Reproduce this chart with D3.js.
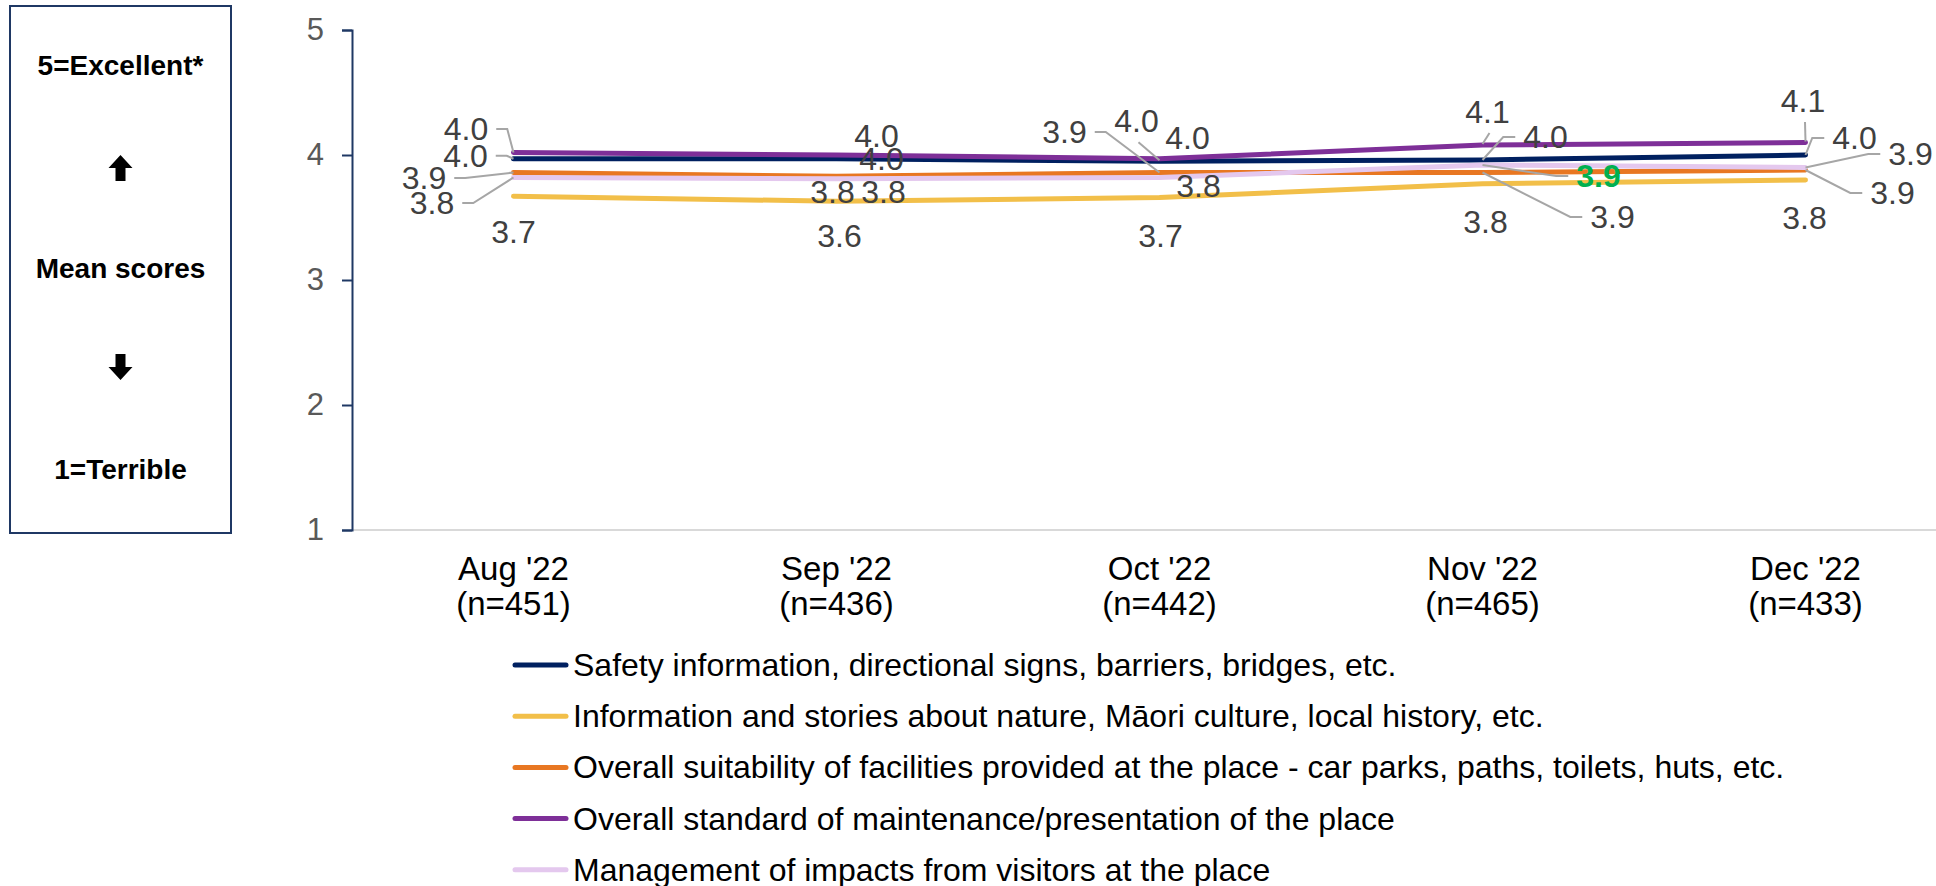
<!DOCTYPE html>
<html>
<head>
<meta charset="utf-8">
<script src="https://cdn.jsdelivr.net/npm/d3@7"></script>
<style>
body { margin: 0; background: #fff; }
text { font-family: "Liberation Sans", Arial, sans-serif; }
</style>
</head>
<body>
<script>
// data
var months = ["Aug '22", "Sep '22", "Oct '22", "Nov '22", "Dec '22"];
var sampleSizes = ["(n=451)", "(n=436)", "(n=442)", "(n=465)", "(n=433)"];
var seriesNames = [
	"Safety information, directional signs, barriers, bridges, etc.",
	"Information and stories about nature, M\u0101ori culture, local history, etc.",
	"Overall suitability of facilities provided at the place - car parks, paths, toilets, huts, etc.",
	"Overall standard of maintenance/presentation of the place",
	"Management of impacts from visitors at the place"
];
var safety = [3.97, 3.97, 3.95, 3.96, 4.00];
var information = [3.67, 3.63, 3.66, 3.77, 3.80];
var facilities = [3.86, 3.83, 3.86, 3.86, 3.88];
var maintenance = [4.02, 4.00, 3.97, 4.08, 4.10];
var impacts = [3.82, 3.81, 3.82, 3.92, 3.90];
var yTicks = [1, 2, 3, 4, 5];
// significant change marked green: [series, month]
var highlighted = [[4, 3]];

var seriesValues = [safety, information, facilities, maintenance, impacts];
var colors = ['#002060', '#F2BF49', '#E87722', '#7E2F98', '#E4C8EE'];

// label placement (offset from point, leader side)
var labelLayout = [
	[[-48, 8, 'R'], [45, 11, ''], [-23, -29, 'B'], [63, -12, 'L'], [49, -6, 'L']],
	[[0, 47, ''], [3, 46, ''], [1, 49.5, ''], [3, 49, ''], [-1, 49, '']],
	[[-89.5, 16.5, 'R'], [-4, 27, ''], [-95, -29.5, 'R'], [130, 55.5, 'L'], [87, 34, 'L']],
	[[-47.5, -12.5, 'R'], [40, -8, ''], [28, -10, ''], [5, -22, 'B'], [-2.5, -30.5, 'B']],
	[[-81.5, 36.5, 'R'], [47, 24, ''], [39, 19.5, ''], [116, 22, 'L'], [105, -2.5, 'L']]
];

var svg = d3.select('body')
	.append('svg')
	.attr('width', 1936)
	.attr('height', 886);

// LEFT BOX
svg.append('rect')
	.attr('x', 10).attr('y', 6)
	.attr('width', 221).attr('height', 527)
	.style('fill', 'none')
	.style('stroke', '#1F3864')
	.style('stroke-width', 2);

var boxText = [['5=Excellent*', 75], ['Mean scores', 278], ['1=Terrible', 479]];
svg.selectAll('.boxlabel')
	.data(boxText)
	.enter()
	.append('text')
	.classed('boxlabel', true)
	.attr('x', 120.5)
	.attr('y', function(d){ return d[1]; })
	.style('text-anchor', 'middle')
	.style('font-weight', 'bold')
	.style('font-size', '28px')
	.text(function(d){ return d[0]; });

var arrow = 'M0,-13 L12,0 L5,0 L5,13 L-5,13 L-5,0 L-12,0 Z';
svg.append('path').attr('d', arrow)
	.attr('transform', 'translate(120.5,168)')
	.style('fill', '#000');
svg.append('path').attr('d', arrow)
	.attr('transform', 'translate(120.5,367) rotate(180)')
	.style('fill', '#000');

// SCALES
var x = d3.scaleBand()
	.domain(months)
	.range([352, 1967]);
var y = d3.scaleLinear()
	.domain([1, 5])
	.range([530, 30]);
var cx = function(i){ return x(months[i]) + x.bandwidth() / 2; };

// x axis line
svg.append('line')
	.attr('x1', 352).attr('x2', 1936)
	.attr('y1', y(1)).attr('y2', y(1))
	.style('stroke', '#D9D9D9')
	.style('stroke-width', 2);

// y axis
var yAxis = svg.append('g')
	.attr('transform', 'translate(352,0)')
	.call(d3.axisLeft(y).tickValues(yTicks).tickSize(10).tickPadding(18).tickFormat(d3.format('d')));
yAxis.select('.domain').style('stroke', '#1F3864').style('stroke-width', 2);
yAxis.selectAll('.tick line').style('stroke', '#1F3864').style('stroke-width', 2);
yAxis.selectAll('.tick text')
	.style('font-size', '31px')
	.style('fill', '#595959')
	.style('font-family', '"Liberation Sans", Arial, sans-serif');

// x labels
var xl = svg.selectAll('.xlabel')
	.data(months)
	.enter()
	.append('text')
	.classed('xlabel', true)
	.attr('x', function(d, i){ return cx(i); })
	.attr('y', 580)
	.style('text-anchor', 'middle')
	.style('font-size', '33px')
	.style('fill', '#000');
xl.append('tspan')
	.attr('x', function(d, i){ return cx(i); })
	.text(function(d){ return d; });
xl.append('tspan')
	.attr('x', function(d, i){ return cx(i); })
	.attr('dy', 35)
	.text(function(d, i){ return sampleSizes[i]; });

// LINES
var line = d3.line()
	.x(function(d, i){ return cx(i); })
	.y(function(d){ return y(d); });

svg.selectAll('.series')
	.data(seriesValues)
	.enter()
	.append('path')
	.classed('series', true)
	.attr('d', line)
	.style('fill', 'none')
	.style('stroke', function(d, i){ return colors[i]; })
	.style('stroke-width', 5)
	.style('stroke-linecap', 'round')
	.style('stroke-linejoin', 'round');

// DATA LABELS
var labels = [];
seriesValues.forEach(function(vals, s){
	vals.forEach(function(v, m){
		var lay = labelLayout[s][m];
		var hl = highlighted.some(function(h){ return h[0] === s && h[1] === m; });
		labels.push({ s: s, m: m, v: v, px: cx(m), py: y(v), dx: lay[0], dy: lay[1], side: lay[2], hl: hl });
	});
});

var leaders = svg.append('g');
var lt = svg.selectAll('.label')
	.data(labels)
	.enter()
	.append('text')
	.classed('label', true)
	.attr('x', function(d){ return d.px + d.dx; })
	.attr('y', function(d){ return d.py + d.dy; })
	.style('text-anchor', 'middle')
	.style('font-size', '32px')
	.style('font-weight', function(d){ return d.hl ? 'bold' : 'normal'; })
	.style('fill', function(d){ return d.hl ? '#00B050' : '#404040'; })
	.text(function(d){ return d.v.toFixed(1); });

lt.each(function(d){
	if (!d.side) return;
	var w = this.getComputedTextLength();
	var tx = d.px + d.dx, base = d.py + d.dy, mid = base - 11;
	var pts;
	if (d.side === 'R') {
		var sx = tx + w / 2 + 8;
		pts = [[sx, mid], [sx + 11, mid], [d.px, d.py]];
	} else if (d.side === 'L') {
		var sx2 = tx - w / 2 - 8;
		pts = [[sx2, mid], [sx2 - 12, mid], [d.px, d.py]];
	} else {
		pts = [[tx + 2, base + 10], [d.px, d.py - 1]];
	}
	leaders.append('path')
		.attr('d', d3.line()(pts))
		.style('fill', 'none')
		.style('stroke', '#A6A6A6')
		.style('stroke-width', 2);
});

// LEGEND
var legend = svg.selectAll('.legend')
	.data(seriesNames)
	.enter()
	.append('g')
	.classed('legend', true)
	.attr('transform', function(d, i){ return 'translate(0,' + (665 + i * 51.2) + ')'; });
legend.append('line')
	.attr('x1', 515).attr('x2', 566)
	.style('stroke', function(d, i){ return colors[i]; })
	.style('stroke-width', 5)
	.style('stroke-linecap', 'round');
legend.append('text')
	.attr('x', 573)
	.attr('y', 11)
	.style('font-size', '32px')
	.style('fill', '#000')
	.text(function(d){ return d; });
</script>
</body>
</html>
